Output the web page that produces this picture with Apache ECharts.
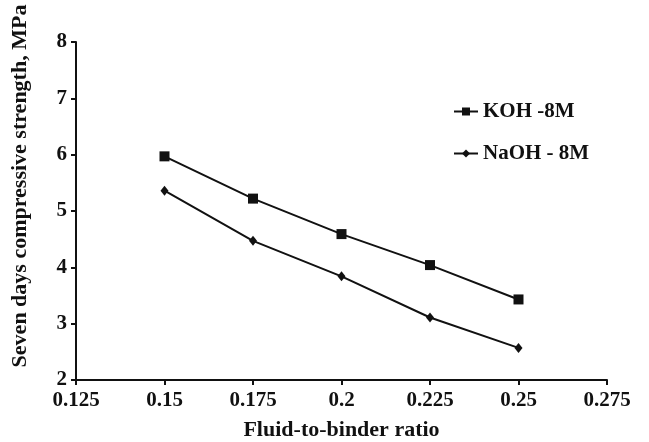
<!DOCTYPE html>
<html><head><meta charset="utf-8">
<script src="https://cdn.jsdelivr.net/npm/echarts@6/dist/echarts.min.js"></script>
<style>html,body{margin:0;padding:0;background:#fff}#c{width:649px;height:442px}</style>
</head><body><div id="c"></div>
<script>
var xValues = [0.15, 0.175, 0.2, 0.225, 0.25];
var kohValues = [5.97, 5.22, 4.59, 4.04, 3.43];
var naohValues = [5.36, 4.47, 3.84, 3.11, 2.57];
var seriesNames = ['KOH -8M', 'NaOH - 8M'];
var xTitle = 'Fluid-to-binder ratio';
var yTitle = 'Seven days compressive strength, MPa';

var font = 'Liberation Serif';
var chart = echarts.init(document.getElementById('c'));
function pairs(v){ return xValues.map(function(x,i){ return [x, v[i]]; }); }
chart.setOption({
  animation: false,
  backgroundColor: '#fff',
  grid: {left: 76, right: 42, top: 42, bottom: 62, containLabel: false, outerBoundsMode: 'none'},
  xAxis: {
    type: 'value', min: 0.125, max: 0.275, interval: 0.025,
    name: xTitle, nameLocation: 'middle', nameGap: 39,
    nameTextStyle: {fontFamily: font, fontWeight: 'bold', fontSize: 22, color: '#111'},
    axisLine: {lineStyle: {color: '#111', width: 2}},
    axisTick: {show: true, length: 5, lineStyle: {color: '#111', width: 2}},
    axisLabel: {fontFamily: font, fontWeight: 'bold', fontSize: 21, color: '#111', margin: 10,
      formatter: function(v){ return String(+v.toFixed(3)); }},
    splitLine: {show: false}
  },
  yAxis: {
    type: 'value', min: 2, max: 8, interval: 1,
    axisLine: {show: true, lineStyle: {color: '#111', width: 2}},
    axisTick: {show: true, length: 5, lineStyle: {color: '#111', width: 2}},
    axisLabel: {fontFamily: font, fontWeight: 'bold', fontSize: 21, color: '#111', margin: 9},
    splitLine: {show: false}
  },
  legend: {
    orient: 'vertical', left: 453, top: 101, padding: 0, itemGap: 21, itemWidth: 24, itemHeight: 10,
    textStyle: {fontFamily: font, fontWeight: 'bold', fontSize: 21, color: '#111'},
    data: seriesNames
  },
  graphic: [{
    type: 'text',
    rotation: Math.PI/2,
    style: {text: yTitle, font: 'bold 22px "Liberation Serif"', fill: '#111', align: 'center', verticalAlign: 'middle'},
    x: 20, y: 186
  }],
  series: [
    {name: seriesNames[0], type: 'line', data: pairs(kohValues), symbol: 'rect', symbolSize: 10,
     lineStyle: {color: '#111', width: 2}, itemStyle: {color: '#111'}},
    {name: seriesNames[1], type: 'line', data: pairs(naohValues), symbol: 'diamond', symbolSize: [8,10],
     lineStyle: {color: '#111', width: 2}, itemStyle: {color: '#111'}}
  ]
});
</script></body></html>
